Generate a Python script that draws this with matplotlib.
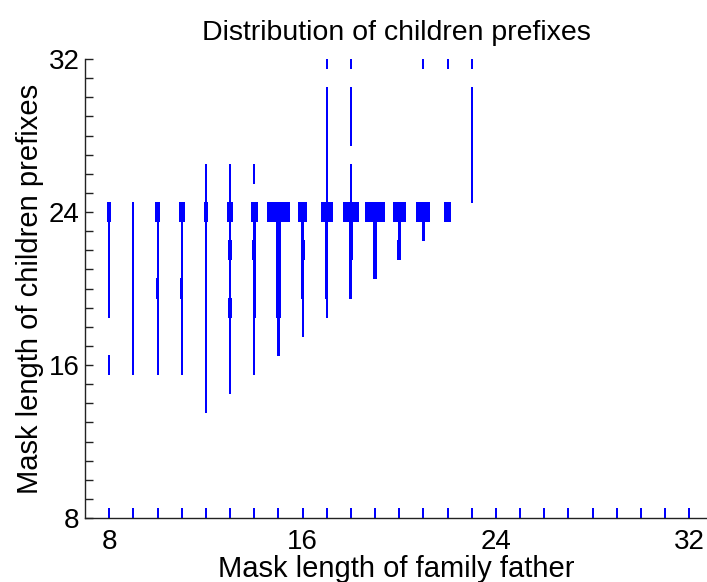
import matplotlib
matplotlib.use("Agg")
import matplotlib.pyplot as plt
from matplotlib.ticker import MultipleLocator

plt.rcParams['font.family'] = ['Liberation Sans', 'DejaVu Sans']

# father mask length, child mask length, relative share (drawn as cell width)
father = [8, 8, 8, 8, 8, 8, 8,
          9, 9, 9, 9, 9, 9, 9, 9, 9,
          10, 10, 10, 10, 10, 10, 10, 10, 10,
          11, 11, 11, 11, 11, 11, 11, 11, 11,
          12, 12, 12, 12, 12, 12, 12, 12, 12, 12, 12, 12, 12,
          13, 13, 13, 13, 13, 13, 13, 13, 13, 13, 13, 13,
          14, 14, 14, 14, 14, 14, 14, 14, 14, 14,
          15, 15, 15, 15, 15, 15, 15, 15,
          16, 16, 16, 16, 16, 16, 16,
          17, 17, 17, 17, 17, 17, 17, 17, 17, 17, 17, 17, 17,
          18, 18, 18, 18, 18, 18, 18, 18, 18, 18, 18,
          19, 19, 19, 19,
          20, 20, 20,
          21, 21, 21,
          22, 22,
          23, 23, 23, 23, 23, 23, 23]
child = [16, 19, 20, 21, 22, 23, 24,
         16, 17, 18, 19, 20, 21, 22, 23, 24,
         16, 17, 18, 19, 20, 21, 22, 23, 24,
         16, 17, 18, 19, 20, 21, 22, 23, 24,
         14, 15, 16, 17, 18, 19, 20, 21, 22, 23, 24, 25, 26,
         15, 16, 17, 18, 19, 20, 21, 22, 23, 24, 25, 26,
         16, 17, 18, 19, 20, 21, 22, 23, 24, 26,
         17, 18, 19, 20, 21, 22, 23, 24,
         18, 19, 20, 21, 22, 23, 24,
         19, 20, 21, 22, 23, 24, 25, 26, 27, 28, 29, 30, 32,
         20, 21, 22, 23, 24, 25, 26, 28, 29, 30, 32,
         21, 22, 23, 24,
         22, 23, 24,
         23, 24, 32,
         24, 32,
         25, 26, 27, 28, 29, 30, 32]
share = [1, 1, 1, 1, 1, 1, 3,
         1, 1, 1, 1, 1, 1, 1, 1, 1,
         1, 1, 1, 1, 1.7, 1, 1, 1, 3.7,
         1, 1, 1, 1, 1.7, 1, 1, 1, 5,
         1, 1, 1, 1, 1, 1, 1, 1, 1.7, 1.7, 3, 1, 1,
         1, 1, 1, 1, 2.7, 1.7, 1.7, 2.7, 1.7, 4.7, 1, 1,
         1, 1, 1, 2, 2, 2, 3, 2, 6, 1,
         2.3, 2.3, 3.3, 4, 4, 4.7, 4.7, 22,
         1, 1, 2, 2, 3, 2, 8,
         1, 2, 2, 2, 2, 10.7, 1, 1, 1, 1, 1, 1, 1,
         2, 2, 3, 3, 15, 1, 1, 1, 1, 1, 1,
         3, 3, 3, 19,
         3, 2, 12,
         2.7, 13, 1,
         6, 1,
         1, 1, 1, 1, 1, 1, 1]

# shortest children row (mask 8) for every father length
base_father = [8, 9, 10, 11, 12, 13, 14, 15, 16, 17, 18, 19, 20, 21, 22, 23,
               24, 25, 26, 27, 28, 29, 30, 31, 32]
base_child = [8] * len(base_father)
base_share = [1] * len(base_father)

all_father = father + base_father
all_child = child + base_child
all_share = share + base_share

fig = plt.figure(figsize=(7.07, 5.82), dpi=100)
ax = fig.add_axes([85 / 707, 64 / 582, 622 / 707, 459 / 582])

unit = 1 / 24.17  # width of one share unit in data coordinates
widths = [s * unit for s in all_share]
lefts = [f - w / 2 for f, w in zip(all_father, widths)]
bars = ax.bar(lefts, [1] * len(all_child), width=widths,
              bottom=[c - 0.5 for c in all_child],
              align='edge', color='#0000ff', linewidth=0, antialiased=False)
for b in bars:
    b.set_snap(False)

ax.set_xlim(7, 32.73)
ax.set_ylim(8, 32)

for side in ['top', 'right']:
    ax.spines[side].set_visible(False)
for side in ['left', 'bottom']:
    ax.spines[side].set_color('#222222')
    ax.spines[side].set_linewidth(1)

ax.set_xticks([8, 16, 24, 32])
ax.set_yticks([8, 16, 24, 32])
ax.yaxis.set_minor_locator(MultipleLocator(1))
ax.tick_params(axis='x', length=0, labelsize=20, pad=8)
ax.tick_params(axis='y', which='both', direction='in', length=6, width=1,
               color='#222222', labelsize=20, pad=4)

ax.set_xlabel('Mask length of family father', fontsize=21, labelpad=0)
ax.set_ylabel('Mask length of children prefixes', fontsize=21, labelpad=3)
ax.set_title('Distribution of children prefixes', fontsize=20.5, pad=14)

fig.savefig('out.png', dpi=100)
